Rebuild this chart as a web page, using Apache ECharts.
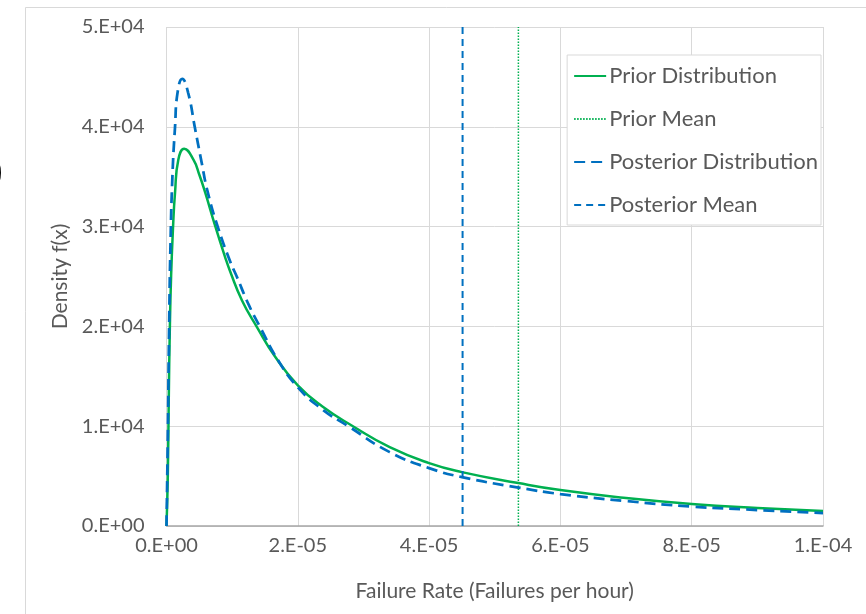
<!DOCTYPE html>
<html>
<head>
<meta charset="utf-8">
<script src="https://cdn.jsdelivr.net/npm/echarts@6/dist/echarts.min.js"></script>
<style>
html,body{margin:0;padding:0;background:#fff;}
#chart{width:866px;height:614px;}
</style>
</head>
<body>
<div id="chart"></div>
<script>
// Failure rate (per hour) sample points
var priorRate = [0, 0.2e-6, 0.35e-6, 0.5e-6, 0.7e-6, 1.0e-6, 1.3e-6, 1.8e-6, 2.7e-6, 4.1e-6, 5.0e-6, 5.9e-6, 7.4e-6, 8.9e-6, 9.7e-6, 1.15e-5, 1.38e-5, 1.65e-5, 2.0e-5, 2.37e-5, 2.84e-5, 3.4e-5, 4.0e-5, 4.5e-5, 5.36e-5, 6.0e-5, 7.0e-5, 8.0e-5, 9.0e-5, 1.0e-4];
var priorDensity = [0, 5000, 13000, 19500, 25000, 30000, 33400, 36700, 37800, 36700, 35200, 33400, 30100, 27000, 25500, 22600, 19900, 17000, 14100, 12000, 10000, 7900, 6300, 5400, 4300, 3600, 2800, 2200, 1800, 1500];

var postRate = [0, 0.2e-6, 0.4e-6, 0.6e-6, 0.9e-6, 1.3e-6, 1.7e-6, 2.4e-6, 3.3e-6, 4.3e-6, 5.3e-6, 6.3e-6, 7.9e-6, 9.7e-6, 1.07e-5, 1.25e-5, 1.42e-5, 1.7e-5, 2.0e-5, 2.37e-5, 2.77e-5, 3.4e-5, 4.0e-5, 4.5e-5, 5.36e-5, 6.0e-5, 7.0e-5, 8.0e-5, 9.0e-5, 1.0e-4];
var postDensity = [0, 9000, 20000, 28000, 35000, 40000, 43500, 44800, 43400, 40000, 36600, 33400, 29800, 26500, 25000, 22200, 20000, 16600, 13900, 11700, 10000, 7400, 5800, 4900, 3850, 3200, 2500, 1950, 1600, 1300];

var priorMean = 5.36e-5;
var posteriorMean = 4.51e-5;
var meanLineSpan = [0, 50000];

var seriesNames = ['Prior Distribution', 'Prior Mean', 'Posterior Distribution', 'Posterior Mean'];

function zip(xs, ys) { return xs.map(function (x, i) { return [x, ys[i]]; }); }
function sci(v) {
  if (Math.abs(v) < 1e-12) return '0.E+00';
  var e = Math.floor(Math.log10(Math.abs(v)) + 1e-9);
  var m = Math.round(v / Math.pow(10, e));
  if (m >= 10) { m = m / 10; e += 1; }
  var s = e < 0 ? '-' : '+';
  var a = Math.abs(e);
  return m + '.E' + s + (a < 10 ? '0' + a : '' + a);
}

var GREEN = '#00B050';
var BLUE = '#0070C0';
var TXT = '#595959';
var FONT = 'Lato';

var chart = echarts.init(document.getElementById('chart'), null, {renderer: 'canvas'});
chart.setOption({
  backgroundColor: '#ffffff',
  animation: false,
  textStyle: {fontFamily: FONT},
  grid: {left: 166.5, right: 43, top: 27, bottom: 88, containLabel: false},
  graphic: [
    {type: 'rect', shape: {x: 25.5, y: 7.5, width: 900, height: 700}, style: {fill: 'none', stroke: '#d9d9d9', lineWidth: 1}, silent: true, z: -10},
    {type: 'text', x: -13, y: 152, style: {text: ')', fontSize: 46, fontFamily: 'DejaVu Sans', fill: '#000'}, silent: true}
  ],
  legend: {
    data: seriesNames,
    orient: 'vertical',
    right: 45,
    top: 55,
    backgroundColor: '#ffffff',
    borderColor: '#d9d9d9',
    borderWidth: 1,
    padding: [10, 3, 9, 6],
    itemGap: 21,
    itemWidth: 32,
    itemHeight: 14,
    itemStyle: {opacity: 0},
    textStyle: {fontSize: 22, color: TXT, fontFamily: FONT, padding: [0, 0, 0, -2]},
    selectedMode: false
  },
  xAxis: {
    type: 'value',
    min: 0, max: 1e-4, interval: 2e-5,
    name: 'Failure Rate (Failures per hour)',
    nameLocation: 'middle',
    nameGap: 55,
    nameTextStyle: {fontSize: 21, color: TXT, fontFamily: FONT},
    axisLine: {show: true, lineStyle: {color: '#a6a6a6', width: 1.5}},
    axisTick: {show: false},
    axisLabel: {fontSize: 20, color: TXT, margin: 10, formatter: function (v) { return sci(v); }},
    splitLine: {show: true, lineStyle: {color: '#d9d9d9', width: 1}}
  },
  yAxis: {
    type: 'value',
    min: 0, max: 50000, interval: 10000,
    name: 'Density f(x)',
    nameLocation: 'middle',
    nameGap: 94,
    nameTextStyle: {fontSize: 21, color: TXT, fontFamily: FONT},
    axisLine: {show: false},
    axisTick: {show: false},
    axisLabel: {fontSize: 20, color: TXT, margin: 22, formatter: function (v) { return sci(v); }},
    splitLine: {show: true, lineStyle: {color: '#d9d9d9', width: 1}}
  },
  series: [
    {
      name: seriesNames[0], type: 'line', data: zip(priorRate, priorDensity),
      smooth: 0.5, showSymbol: false, symbol: 'none',
      lineStyle: {color: GREEN, width: 2.5}, itemStyle: {color: GREEN}, z: 2
    },
    {
      name: seriesNames[1], type: 'line', data: zip([priorMean, priorMean], meanLineSpan),
      showSymbol: false, symbol: 'none',
      lineStyle: {color: GREEN, width: 1.5, type: [1.5, 1.5]}, itemStyle: {color: GREEN}, z: 3
    },
    {
      name: seriesNames[2], type: 'line', data: zip(postRate, postDensity),
      smooth: 0.5, showSymbol: false, symbol: 'none',
      lineStyle: {color: BLUE, width: 2.75, type: [11, 6]}, itemStyle: {color: BLUE}, z: 4
    },
    {
      name: seriesNames[3], type: 'line', data: zip([posteriorMean, posteriorMean], meanLineSpan),
      showSymbol: false, symbol: 'none',
      lineStyle: {color: BLUE, width: 2, type: [7, 5]}, itemStyle: {color: BLUE}, z: 5
    }
  ]
});
</script>
</body>
</html>
